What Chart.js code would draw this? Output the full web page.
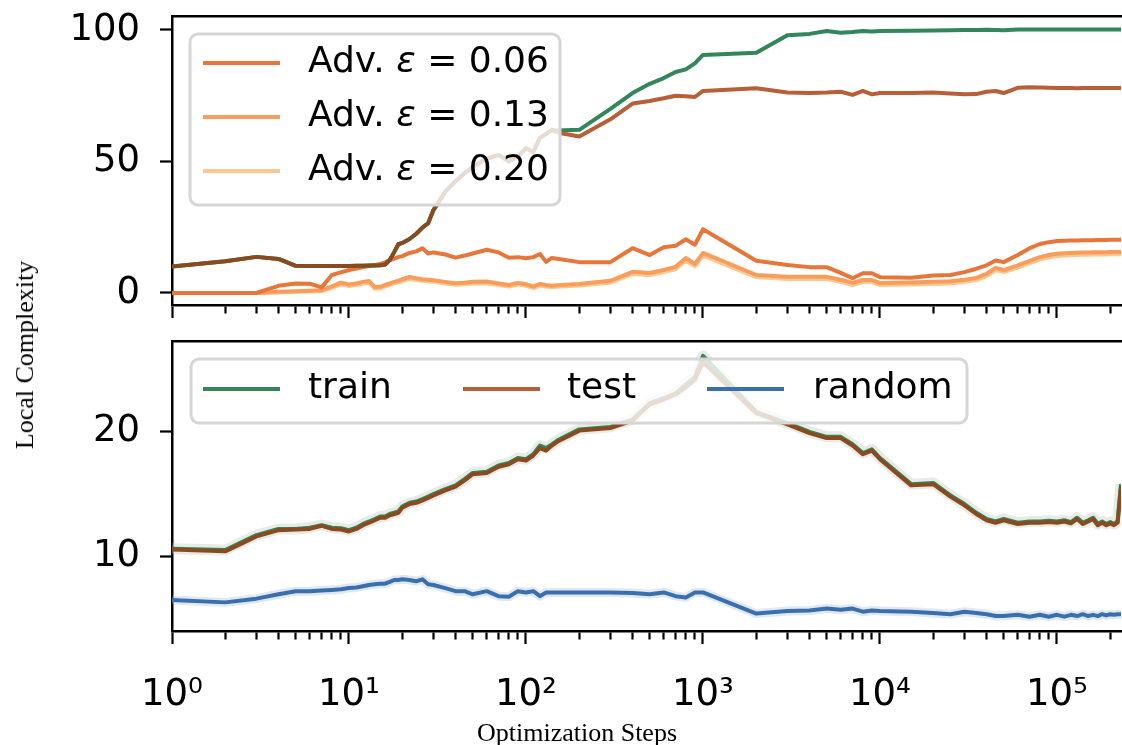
<!DOCTYPE html>
<html>
<head>
<meta charset="utf-8">
<script src="https://cdn.jsdelivr.net/npm/chart.js@4.4.0/dist/chart.umd.min.js"></script>
<style>
  html, body { margin: 0; padding: 0; background: #fff; }
  #wrap { position: relative; width: 1122px; height: 745px; overflow: hidden; }
  #topBox { position: absolute; left: 0; top: 0; width: 1122px; height: 330px; }
  #bottomBox { position: absolute; left: 0; top: 330px; width: 1122px; height: 415px; }
  .title { position: absolute; font-family: "Liberation Serif", "Times New Roman", serif; font-size: 26px; color: #000; white-space: nowrap; }
  #yTitle { left: 25px; top: 355px; transform: translate(-50%, -50%) rotate(-90deg); }
  #xTitle { left: 577px; top: 733px; transform: translate(-50%, -50%); }
</style>
</head>
<body>
<div id="wrap">
  <div id="topBox"><canvas id="topChart" width="1122" height="330"></canvas></div>
  <div id="bottomBox"><canvas id="bottomChart" width="1122" height="415"></canvas></div>
  <div class="title" id="yTitle">Local Complexity</div>
  <div class="title" id="xTitle">Optimization Steps</div>
</div>
<script>
// optimization steps (x), shared by every series
const steps = [
  1, 2, 3, 4, 5, 6, 7, 8, 9, 10,
  11, 12, 13, 14, 15, 16, 17, 18, 19, 20,
  22, 24, 26, 28, 30, 35, 40, 45, 50, 60,
  70, 80, 90, 100, 110, 120, 130, 140, 150, 200,
  300, 400, 500, 600, 700, 800, 900, 1000, 2000, 3000,
  4000, 5000, 6000, 7000, 8000, 9000, 10000, 15000, 20000, 25000,
  30000, 35000, 40000, 45000, 50000, 60000, 70000, 80000, 90000, 100000,
  110000, 120000, 130000, 140000, 150000, 160000, 170000, 180000, 190000, 200000,
  210000, 220000, 230000
];

// top panel
const topTrain = [
  10.0, 12.0, 13.7, 12.9, 10.3, 10.2, 10.2, 10.2, 10.2, 10.2,
  10.3, 10.3, 10.4, 10.4, 10.5, 10.8, 12.5, 15.5, 18.5, 19.0,
  20.5, 22.5, 24.8, 26.5, 31.5, 38.5, 42.5, 45.5, 48.0, 51.0,
  52.5, 50.0, 52.0, 55.0, 53.6, 59.0, 60.5, 62.0, 61.8, 62.0,
  70.0, 76.0, 79.5, 81.7, 84.0, 85.0, 87.3, 90.5, 91.3, 98.0,
  98.5, 99.6, 98.9, 99.2, 99.6, 99.4, 99.6, 99.7, 99.8, 99.9,
  100.0, 100.0, 100.1, 100.0, 99.9, 100.2, 100.2, 100.2, 100.2, 100.2,
  100.2, 100.2, 100.2, 100.2, 100.2, 100.2, 100.2, 100.2, 100.2, 100.2,
  100.2, 100.2, 100.2
];
const topTest = [
  10.0, 12.0, 13.7, 12.9, 10.3, 10.2, 10.2, 10.2, 10.2, 10.2,
  10.3, 10.3, 10.4, 10.4, 10.5, 10.8, 12.5, 15.5, 18.5, 19.0,
  20.5, 22.5, 24.8, 26.5, 31.5, 38.5, 42.5, 45.5, 48.0, 51.0,
  52.5, 50.0, 52.0, 55.0, 53.6, 59.0, 60.5, 62.0, 61.0, 59.5,
  66.0, 72.0, 73.0, 74.0, 75.0, 74.8, 74.5, 76.8, 77.8, 76.2,
  76.0, 76.2, 76.5, 75.3, 76.8, 75.5, 76.0, 76.0, 76.2, 75.8,
  75.5, 75.6, 76.5, 76.8, 76.0, 78.0, 78.2, 78.1, 78.0, 77.9,
  77.9, 77.9, 77.8, 77.9, 77.9, 77.9, 77.9, 77.9, 77.9, 77.9,
  77.9, 77.9, 77.9
];
const adv06 = [
  0, 0, 0, 2.7, 3.6, 3.5, 2.1, 6.8, 7.8, 8.7,
  9.3, 9.8, 10.2, 10.6, 11.0, 11.6, 12.5, 13.0, 13.6, 14.0,
  15.2, 15.8, 17.0, 15.0, 15.4, 14.6, 13.4, 14.2, 15.0, 16.4,
  15.4, 13.4, 13.6, 13.2, 13.6, 14.8, 11.8, 13.3, 13.0, 11.7,
  11.7, 17.0, 14.4, 17.4, 17.9, 20.4, 18.3, 24.2, 12.2, 10.6,
  9.8, 9.8, 7.6, 5.6, 7.5, 7.5, 6.0, 5.8, 6.6, 6.8,
  7.9, 9.2, 10.5, 12.3, 11.7, 14.4, 17.0, 18.6, 19.3, 19.7,
  19.8, 19.9, 19.9, 20.0, 20.0, 20.0, 20.1, 20.1, 20.1, 20.2,
  20.2, 20.2, 20.2
];
const adv13 = [
  0, 0, 0, 0.4, 0.6, 0.8, 1.0, 2.5, 3.9, 3.2,
  3.6, 4.2, 4.5, 2.2, 2.3, 3.0, 3.6, 4.2, 4.6, 5.2,
  6.1, 5.6, 5.2, 5.0, 4.8, 4.2, 3.7, 3.9, 4.2, 4.3,
  3.6, 3.0, 3.8, 3.3, 2.4, 3.4, 3.0, 2.7, 2.9, 3.4,
  4.6, 8.0, 7.6, 8.7, 9.9, 13.3, 11.0, 15.2, 6.8, 6.1,
  6.1, 6.1, 5.0, 3.8, 4.9, 4.9, 3.8, 4.0, 4.2, 4.4,
  5.0, 5.7, 7.2, 9.5, 8.7, 10.5, 12.2, 13.6, 14.4, 14.9,
  15.1, 15.2, 15.3, 15.4, 15.4, 15.5, 15.5, 15.5, 15.5, 15.6,
  15.6, 15.6, 15.6
];
const adv20 = [
  0, 0, 0, 0.2, 0.4, 0.5, 0.7, 1.9, 3.2, 2.6,
  3.0, 3.5, 3.8, 1.6, 1.7, 2.4, 3.0, 3.6, 4.0, 4.5,
  5.4, 4.9, 4.6, 4.4, 4.2, 3.6, 3.1, 3.3, 3.6, 3.7,
  3.0, 2.4, 3.2, 2.7, 1.8, 2.8, 2.4, 2.1, 2.3, 2.8,
  3.9, 7.2, 6.8, 7.9, 9.0, 12.3, 10.1, 14.2, 6.0, 5.3,
  5.3, 5.3, 4.2, 3.0, 4.1, 4.1, 3.0, 3.2, 3.4, 3.6,
  4.2, 4.9, 6.4, 8.6, 7.9, 9.6, 11.3, 12.7, 13.5, 14.0,
  14.2, 14.3, 14.4, 14.5, 14.5, 14.6, 14.6, 14.6, 14.6, 14.7,
  14.7, 14.7, 14.7
];

// bottom panel
const lowTrain = [
  10.6, 10.5, 11.7, 12.2, 12.2, 12.3, 12.5, 12.3, 12.25, 12.1,
  12.3, 12.6, 12.8, 13.0, 13.2, 13.2, 13.4, 13.5, 13.6, 14.0,
  14.3, 14.4, 14.6, 14.8, 15.0, 15.4, 15.7, 16.2, 16.7, 16.8,
  17.3, 17.5, 17.9, 17.8, 18.2, 18.9, 18.7, 19.0, 19.3, 20.2,
  20.4, 21.0, 22.3, 22.7, 23.1, 23.8, 24.4, 26.1, 21.6, 20.7,
  20.0, 19.6, 19.6, 19.0, 18.3, 18.6, 17.9, 15.8, 15.9, 14.9,
  14.2, 13.5, 13.0, 12.8, 13.0, 12.7, 12.8, 12.8, 12.85, 12.8,
  12.9, 12.75, 13.1, 12.7, 12.9, 13.1, 12.6, 12.8, 12.6, 12.75,
  12.6, 12.8, 15.8
];
const lowTest = [
  10.55, 10.4, 11.6, 12.1, 12.15, 12.2, 12.45, 12.2, 12.15, 12.0,
  12.2, 12.5, 12.7, 12.9, 13.1, 13.1, 13.3, 13.4, 13.5, 13.9,
  14.2, 14.3, 14.5, 14.7, 14.9, 15.3, 15.6, 16.1, 16.6, 16.7,
  17.2, 17.4, 17.8, 17.7, 18.1, 18.7, 18.5, 18.9, 19.2, 20.1,
  20.3, 20.9, 22.2, 22.6, 23.0, 23.6, 24.2, 25.6, 21.5, 20.6,
  19.9, 19.5, 19.5, 18.9, 18.2, 18.5, 17.8, 15.7, 15.8, 14.8,
  14.1, 13.4, 12.9, 12.7, 12.9, 12.6, 12.7, 12.7, 12.75, 12.7,
  12.8, 12.65, 13.0, 12.6, 12.8, 13.0, 12.5, 12.7, 12.5, 12.65,
  12.5, 12.7, 15.6
];
const lowRandom = [
  6.5, 6.3, 6.6, 6.95, 7.2, 7.2, 7.25, 7.3, 7.35, 7.45,
  7.5, 7.6, 7.7, 7.75, 7.8, 7.8, 7.95, 8.1, 8.1, 8.15,
  8.1, 8.0, 8.15, 7.75, 7.7, 7.45, 7.2, 7.2, 6.95, 7.2,
  6.8, 6.75, 7.2, 7.1, 7.2, 6.8, 7.1, 7.1, 7.1, 7.1,
  7.1, 7.05, 6.95, 7.1, 6.8, 6.7, 7.1, 7.1, 5.4, 5.6,
  5.65, 5.8, 5.7, 5.8, 5.55, 5.65, 5.6, 5.55, 5.45, 5.35,
  5.55, 5.45, 5.35, 5.2, 5.2, 5.3, 5.15, 5.3, 5.15, 5.3,
  5.15, 5.3, 5.2, 5.35, 5.2, 5.3, 5.2, 5.35, 5.25, 5.35,
  5.3, 5.35, 5.35
];

// axes
const xMin = 1, xMax = 230000;
const majorTicks = [1, 10, 100, 1000, 10000, 100000];
const majorLabels = ['10\u2070', '10\u00b9', '10\u00b2', '10\u00b3', '10\u2074', '10\u2075'];
const topYTicks = [0, 50, 100];
const lowYTicks = [10, 20];
const epsLabels = ['0.06', '0.13', '0.20'];

const C = {
  train: '#33855a', test: '#b65f38', overlap: '#8a4a1f', random: '#3a6fae',
  a06: '#e8763a', a13: '#f89d5a', a20: '#fdc792'
};
const FONT = 'DejaVu Sans';

function logTicks() {
  const t = [];
  for (let e = 0; Math.pow(10, e) <= xMax; e++) {
    for (let m = 1; m <= 9; m++) {
      const v = m * Math.pow(10, e);
      if (v <= xMax) t.push({ value: v, major: m === 1 });
    }
  }
  return t;
}

function xAxis(showLabels, h) {
  return {
    type: 'logarithmic', position: 'bottom', min: xMin, max: xMax,
    afterBuildTicks: s => { s.ticks = logTicks(); },
    afterFit: s => { s.height = h; s.paddingLeft = 0; s.paddingRight = 0; },
    border: { display: true, color: '#000', width: 2.5 },
    grid: {
      drawOnChartArea: false, drawTicks: true, tickLength: 13, tickWidth: 2.2, tickColor: '#000',
      tickBorderDash: ctx => (ctx.tick && ctx.tick.major) ? [] : [7, 30]
    },
    ticks: {
      display: showLabels, autoSkip: false, maxRotation: 0, padding: 33, color: '#000',
      font: { family: FONT, size: 37, lineHeight: 1 },
      callback: v => { const i = majorTicks.indexOf(v); return i >= 0 ? majorLabels[i] : ''; }
    }
  };
}

function topSpine() {
  return {
    type: 'linear', position: 'top', min: 0, max: 1,
    afterFit: s => { s.height = 0; },
    border: { display: true, color: '#000', width: 2.5 },
    grid: { display: false, drawTicks: false },
    ticks: { display: false }
  };
}

function yAxis(min, max, tickVals) {
  return {
    type: 'linear', position: 'left', min: min, max: max,
    afterBuildTicks: s => { s.ticks = tickVals.map(v => ({ value: v })); },
    afterFit: s => { s.width = 172; s.paddingTop = 0; s.paddingBottom = 0; },
    border: { display: true, color: '#000', width: 2.5 },
    grid: { drawOnChartArea: false, drawTicks: true, tickLength: 12, tickWidth: 2.2, tickColor: '#000' },
    ticks: { padding: 20, color: '#000', font: { family: FONT, size: 37, lineHeight: 1 } }
  };
}

function pts(vals) {
  return steps.map((s, i) => ({ x: s, y: vals[i] }));
}

function line(label, vals, color, order, extra) {
  return Object.assign({
    label: label, data: pts(vals), borderColor: color, borderWidth: 4,
    pointRadius: 0, tension: 0, fill: false, order: order,
    borderJoinStyle: 'round', borderCapStyle: 'butt'
  }, extra || {});
}

// test line turns dark brown where it lies on top of the train line
function overlapColor(a, b) {
  return ctx => {
    const i = ctx.p0DataIndex, j = ctx.p1DataIndex;
    return (Math.abs(a[i] - b[i]) < 1.2 && Math.abs(a[j] - b[j]) < 1.2) ? C.overlap : C.test;
  };
}

// legend drawn inside the plot area, over the lines
const boxLegend = {
  id: 'boxLegend',
  afterDatasetsDraw(chart, args, o) {
    const ctx = chart.ctx;
    ctx.save();
    ctx.beginPath();
    ctx.roundRect(o.x, o.y, o.w, o.h, 8);
    ctx.fillStyle = 'rgba(255,255,255,0.8)';
    ctx.fill();
    ctx.lineWidth = 3;
    ctx.strokeStyle = '#d6d6d6';
    ctx.stroke();
    o.items.forEach(it => {
      const ds = chart.data.datasets[it.ds];
      ctx.beginPath();
      ctx.moveTo(it.lx, it.y);
      ctx.lineTo(it.lx + 77, it.y);
      ctx.lineWidth = 4;
      ctx.strokeStyle = it.color;
      ctx.stroke();
      ctx.fillStyle = '#000';
      ctx.textBaseline = 'middle';
      ctx.textAlign = 'left';
      const parts = ds.label.split('\u03b5');
      let x = it.tx;
      ctx.font = '36px "' + FONT + '"';
      ctx.fillText(parts[0], x, it.y);
      if (parts.length > 1) {
        x += ctx.measureText(parts[0]).width;
        ctx.font = 'italic 36px "' + FONT + '"';
        ctx.fillText('\u03b5', x, it.y);
        x += ctx.measureText('\u03b5').width;
        ctx.font = '36px "' + FONT + '"';
        ctx.fillText(parts[1], x, it.y);
      }
    });
    ctx.restore();
  }
};

const common = {
  responsive: false, animation: false, events: [],
  plugins: { legend: { display: false }, tooltip: { enabled: false } }
};

new Chart(document.getElementById('topChart'), {
  type: 'line',
  data: {
    datasets: [
      line('train', topTrain, C.train, 2),
      line('test', topTest, C.test, 1, { segment: { borderColor: overlapColor(topTrain, topTest) } }),
      line('Adv. \u03b5 = ' + epsLabels[0], adv06, C.a06, 3),
      line('Adv. \u03b5 = ' + epsLabels[1], adv13, C.a13, 4),
      line('Adv. \u03b5 = ' + epsLabels[2], adv20, C.a20, 5)
    ]
  },
  options: Object.assign({}, common, {
    layout: { padding: { top: 16, right: 1, left: 0, bottom: 0 } },
    scales: { x: xAxis(false, 25), xt: topSpine(), y: yAxis(-4.6, 105.3, topYTicks) },
    plugins: Object.assign({}, common.plugins, {
      boxLegend: {
        x: 190, y: 34, w: 370, h: 171,
        items: [
          { ds: 2, color: C.a06, lx: 203, tx: 308, y: 63 },
          { ds: 3, color: C.a13, lx: 203, tx: 308, y: 117 },
          { ds: 4, color: C.a20, lx: 203, tx: 308, y: 171 }
        ]
      }
    })
  }),
  plugins: [boxLegend]
});

new Chart(document.getElementById('bottomChart'), {
  type: 'line',
  data: {
    datasets: [
      line('train', lowTrain, C.train, 2),
      line('test', lowTest, C.test, 1, { segment: { borderColor: overlapColor(lowTrain, lowTest) } }),
      line('random', lowRandom, C.random, 3),
      line('train band', lowTrain, 'rgba(185,195,180,0.35)', 6, { borderWidth: 11 }),
      line('random band', lowRandom, 'rgba(150,180,215,0.3)', 7, { borderWidth: 9 })
    ]
  },
  options: Object.assign({}, common, {
    layout: { padding: { top: 11, right: 1, left: 0, bottom: 0 } },
    scales: { x: xAxis(true, 114), xt: topSpine(), y: yAxis(4.0, 27.3, lowYTicks) },
    plugins: Object.assign({}, common.plugins, {
      boxLegend: {
        x: 191, y: 29, w: 776, h: 64,
        items: [
          { ds: 0, color: C.train, lx: 203, tx: 308, y: 59 },
          { ds: 1, color: C.test, lx: 463, tx: 567, y: 59 },
          { ds: 2, color: C.random, lx: 707, tx: 813, y: 59 }
        ]
      }
    })
  }),
  plugins: [boxLegend]
});
</script>
</body>
</html>
